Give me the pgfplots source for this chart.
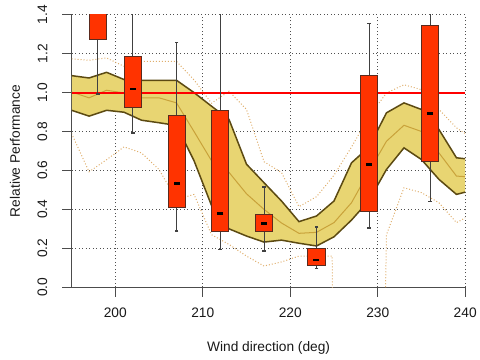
\documentclass[border=0pt]{standalone}
\usepackage{fontspec}
\setmainfont{Liberation Sans}
\usepackage{pgfplots}
\usepackage{pgfplotstable}
\pgfplotsset{compat=1.18}
\usepgfplotslibrary{fillbetween}
\definecolor{bandfill}{HTML}{E8D572}
\definecolor{bandedge}{HTML}{5C4A12}
\definecolor{midline}{HTML}{C9A23A}
\definecolor{dotline}{HTML}{DFAE6C}
\definecolor{boxfill}{HTML}{FF3300}
\definecolor{boxedge}{HTML}{5A2A1E}
\definecolor{whisk}{HTML}{404040}
\definecolor{gridc}{HTML}{505050}

\pgfplotstableread{
x lo up mid
195 0.909 1.087 1.003
197 0.879 1.075 0.973
199 0.909 1.104 1.012
201 0.899 1.067 0.998
203 0.858 1.063 0.973
205 0.845 1.063 0.973
207 0.831 1.063 0.947
209 0.650 1.000 0.800
211 0.420 0.930 0.650
213 0.300 0.862 0.590
215 0.263 0.632 0.480
217 0.232 0.537 0.400
219 0.242 0.443 0.330
221 0.226 0.337 0.277
223 0.212 0.366 0.282
225 0.259 0.443 0.332
227 0.345 0.639 0.434
229 0.446 0.720 0.595
231 0.605 0.896 0.750
233 0.716 0.947 0.832
235 0.656 0.913 0.800
237 0.554 0.810 0.690
239 0.477 0.665 0.571
241 0.500 0.655 0.565
}\band

\pgfplotstableread{
x y
195 1.173
197 1.166
199 1.178
201 1.135
203 1.160
205 1.160
207 1.160
209 1.065
211 0.945
213 1.007
215 0.913
217 0.645
219 0.589
221 0.414
223 0.465
225 0.575
227 0.720
229 0.877
231 0.998
233 1.040
235 1.015
237 0.913
239 0.819
241 0.760
}\dotup

\pgfplotstableread{
x y
195 0.790
197 0.593
199 0.655
201 0.721
203 0.690
205 0.605
207 0.450
209 0.477
211 0.270
213 0.220
215 0.160
217 0.109
219 0.130
221 0.160
223 0.160
224.8 0.160
224.9 -5
229 -5
231 0.270
233 0.511
235 0.486
237 0.434
239 0.332
241 0.380
}\dotlo

\begin{document}
\begin{tikzpicture}
\begin{axis}[
  at={(0,0)}, anchor=south west,
  scale only axis, width=393.3bp, height=272.6bp,
  xmin=195.05, xmax=240, ymin=0, ymax=1.4,
  axis x line=bottom, axis y line=left,
  axis line style={-, draw=black!70, line width=1bp},
  xtick={200,210,220,230,240},
  ytick={0,0.2,0.4,0.6,0.8,1.0,1.2,1.4},
  tick align=outside, major tick length=9.5bp,
  tick style={draw=black!70, line width=0.9bp},
  grid=major,
  grid style={draw=gridc, line width=0.8bp, dash pattern=on 1bp off 2.5bp},
  /pgf/number format/assume math mode=true,
  yticklabel={\pgfmathprintnumber[fixed,fixed zerofill,precision=1]{\tick}},
  xticklabel={\pgfmathprintnumber[fixed,precision=0]{\tick}},
  ticklabel style={font=\fontsize{13.8}{16}\selectfont, text=black!90},
  yticklabel style={rotate=90, anchor=center},
  yticklabel shift=20bp,
  xticklabel style={anchor=center},
  xticklabel shift=16.5bp,
  xlabel={Wind direction (deg)},
  ylabel={Relative Performance},
  every axis x label/.style={at={(axis description cs:0.5,0)}, yshift=-60.5bp, anchor=center, font=\fontsize{13.8}{16}\selectfont, text=black!90},
  every axis y label/.style={at={(axis description cs:0,0.5)}, xshift=-57bp, rotate=90, anchor=center, font=\fontsize{13.8}{16}\selectfont, text=black!90},
  clip=true,
]
% band
\addplot[draw=none, name path=up, forget plot] table[x=x, y=up]{\band};
\addplot[draw=none, name path=lo, forget plot] table[x=x, y=lo]{\band};
\addplot[fill=bandfill, draw=none] fill between[of=up and lo];
\addplot[midline, line width=1bp] table[x=x, y=mid]{\band};
\addplot[bandedge, line width=1.5bp] table[x=x, y=up]{\band};
\addplot[bandedge, line width=1.5bp] table[x=x, y=lo]{\band};
% dotted envelope
\addplot[dotline, line width=1bp, dash pattern=on 1bp off 2bp] table[x=x, y=y]{\dotup};
\addplot[dotline, line width=1bp, dash pattern=on 1bp off 2bp] table[x=x, y=y]{\dotlo};
% reference line
\addplot[red, line width=2bp] coordinates {(195.05,1) (240,1)};
% whiskers
\addplot[whisk, line width=0.9bp] coordinates {(198,0.993) (198,1.6)};
\addplot[whisk, line width=0.9bp] coordinates {(202,0.793) (202,1.6)};
\addplot[whisk, line width=0.9bp] coordinates {(207,0.289) (207,1.258)};
\addplot[whisk, line width=0.9bp] coordinates {(212,0.193) (212,1.6)};
\addplot[whisk, line width=0.9bp] coordinates {(217,0.186) (217,0.514)};
\addplot[whisk, line width=0.9bp] coordinates {(223,0.097) (223,0.309)};
\addplot[whisk, line width=0.9bp] coordinates {(229,0.303) (229,1.354)};
\addplot[whisk, line width=0.9bp] coordinates {(236,0.440) (236,1.6)};
% whisker caps
\addplot[only marks, mark=-, mark size=1.8bp, mark options={draw=whisk, line width=1.6bp}]
  coordinates {(198,0.993) (202,0.793) (207,0.289) (207,1.258) (212,0.193)
               (217,0.186) (217,0.514) (223,0.097) (223,0.309) (229,0.303) (229,1.354) (236,0.440)};
% boxes
\addplot[fill=boxfill, draw=boxedge, line width=0.9bp] coordinates {(197.02,1.272) (198.98,1.272) (198.98,1.6) (197.02,1.6)} --cycle;
\addplot[fill=boxfill, draw=boxedge, line width=0.9bp] coordinates {(201.02,0.921) (202.98,0.921) (202.98,1.183) (201.02,1.183)} --cycle;
\addplot[fill=boxfill, draw=boxedge, line width=0.9bp] coordinates {(206.02,0.409) (207.98,0.409) (207.98,0.884) (206.02,0.884)} --cycle;
\addplot[fill=boxfill, draw=boxedge, line width=0.9bp] coordinates {(211.02,0.286) (212.98,0.286) (212.98,0.909) (211.02,0.909)} --cycle;
\addplot[fill=boxfill, draw=boxedge, line width=0.9bp] coordinates {(216.02,0.289) (217.98,0.289) (217.98,0.374) (216.02,0.374)} --cycle;
\addplot[fill=boxfill, draw=boxedge, line width=0.9bp] coordinates {(222.02,0.114) (223.98,0.114) (223.98,0.200) (222.02,0.200)} --cycle;
\addplot[fill=boxfill, draw=boxedge, line width=0.9bp] coordinates {(228.02,0.391) (229.98,0.391) (229.98,1.087) (228.02,1.087)} --cycle;
\addplot[fill=boxfill, draw=boxedge, line width=0.9bp] coordinates {(235.02,0.645) (236.98,0.645) (236.98,1.344) (235.02,1.344)} --cycle;
% medians
\addplot[only marks, mark=-, mark size=3bp, mark options={draw=black, line width=2.6bp}]
  coordinates {(202,1.019) (207,0.533) (212,0.378) (217,0.326) (223,0.140) (229,0.631) (236,0.892)};
\end{axis}
\path (-72bp,-72.7bp) rectangle (408bp,287.3bp);
\end{tikzpicture}
\end{document}
